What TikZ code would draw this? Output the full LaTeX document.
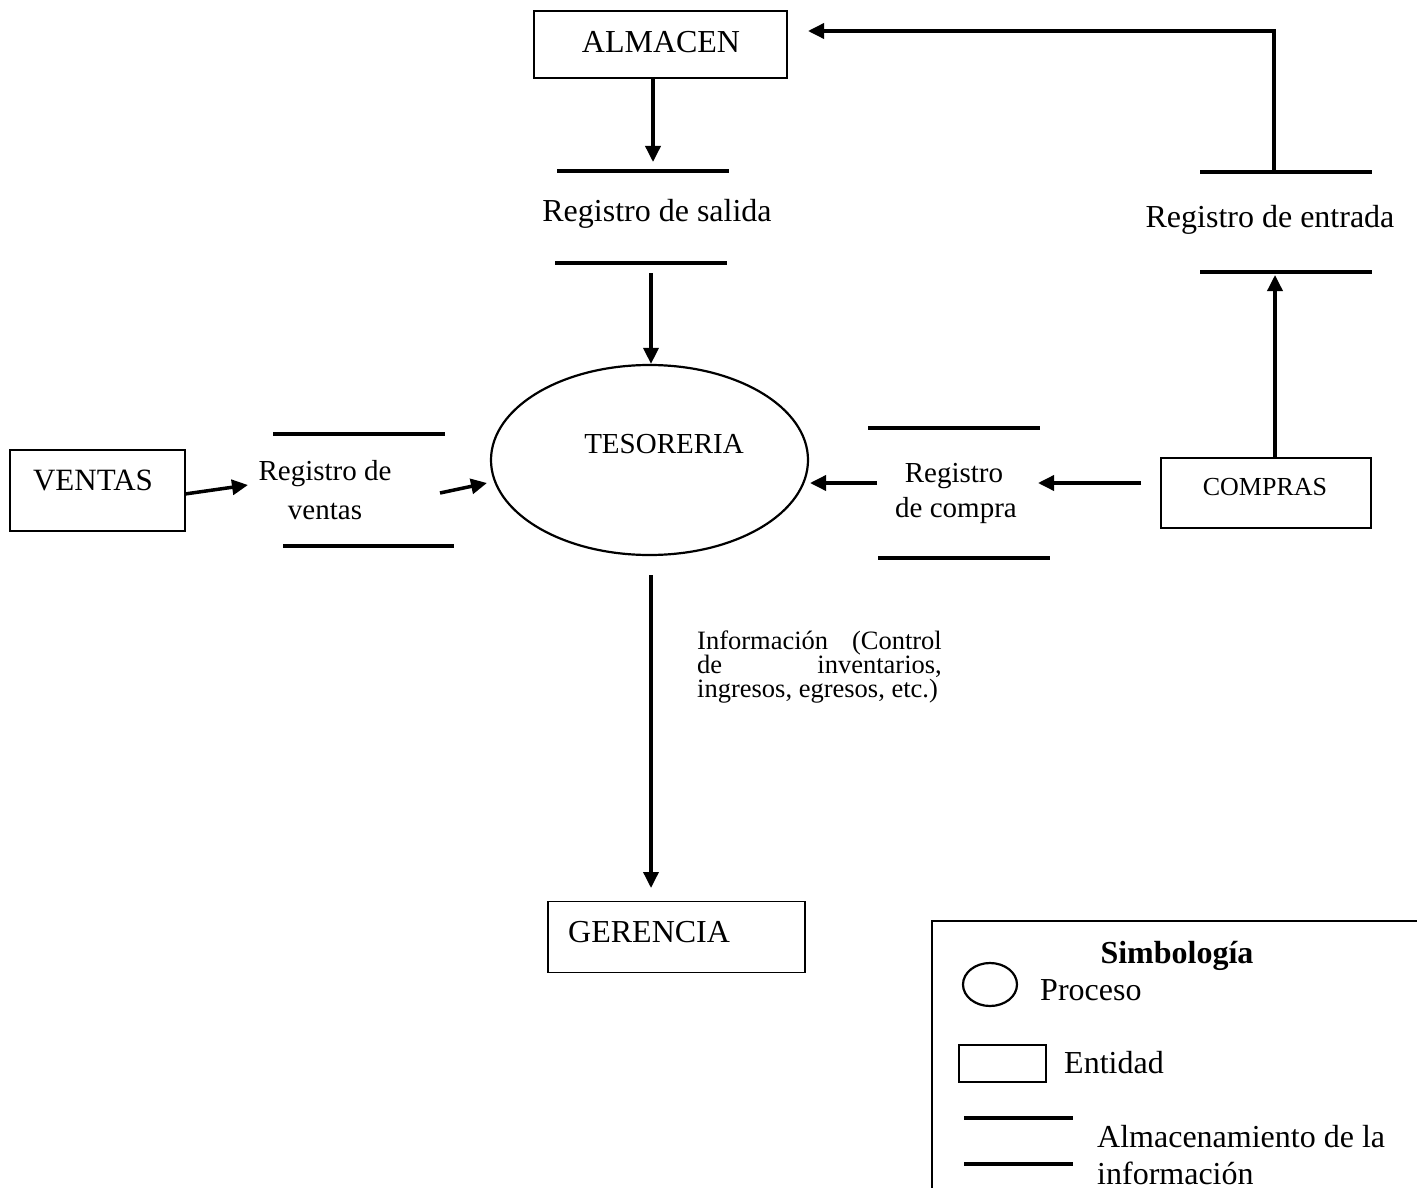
\documentclass[tikz,border=0pt]{standalone}
\usepackage{fontspec}
\setmainfont{Liberation Serif}
\usetikzlibrary{arrows.meta,shapes.geometric}
\begin{document}
\begin{tikzpicture}[x=1pt,y=-1pt,
  box/.style={draw,line width=1.3pt,inner sep=0pt},
  proc/.style={draw,ellipse,line width=2.2pt,inner sep=0pt},
  bar/.style={line width=4pt},
  arr/.style={line width=3.5pt,-{Triangle[length=16pt,width=15pt]}},
  lbl/.style={inner sep=0pt,anchor=base,font=\fontsize{#1}{#1}\selectfont}]
\useasboundingbox (0,0) rectangle (1417,1188);

% ALMACEN
\node[box,minimum width=253,minimum height=67] (alm) at (660.5,44.5) {};
\node[lbl=32] (almT) at (661,53) {ALMACEN};

% Registro de salida
\draw[bar] (557,171) -- (729,171);
\node[lbl=32] (sal) at (657,222) {Registro de salida};
\draw[bar] (555,263) -- (727,263);

% TESORERIA
\node[proc,minimum width=317,minimum height=190] (tes) at (649.5,460) {};
\node[lbl=29] (tesT) at (664,453) {TESORERIA};

% GERENCIA
\node[box,minimum width=257,minimum height=71] (ger) at (676.5,937) {};
\node[lbl=32,anchor=base west] (gerT) at (568,942) {GERENCIA};

% VENTAS
\node[box,minimum width=175,minimum height=81] (ven) at (97.5,490.5) {};
\node[lbl=31] (venT) at (93,490) {VENTAS};

% Registro de ventas
\draw[bar] (273,434) -- (445,434);
\draw[bar] (283,546) -- (454,546);
\node[lbl=29] (rv1) at (325,480) {Registro de};
\node[lbl=29] (rv2) at (325,519) {ventas};

% Registro de compra
\draw[bar] (868,428) -- (1040,428);
\draw[bar] (878,558) -- (1050,558);
\node[lbl=29] (rc1) at (954,482) {Registro};
\node[lbl=29] (rc2) at (956,517) {de compra};

% COMPRAS
\node[box,minimum width=210,minimum height=70] (com) at (1266,493) {};
\node[lbl=26] (comT) at (1265,495) {COMPRAS};

% Registro de entrada
\draw[bar] (1200,172) -- (1372,172);
\node[lbl=32] (ent) at (1270,227) {Registro de entrada};
\draw[bar] (1200,272) -- (1372,272);

% Informacion label
\node[lbl=26.5,anchor=base west] (i1a) at (697,649) {Información};
\node[lbl=26.5,anchor=base east] (i1b) at (942,649) {(Control};
\node[lbl=26.5,anchor=base west] (i2a) at (697,673) {de};
\node[lbl=26.5,anchor=base east] (i2b) at (942,673) {inventarios,};
\node[lbl=26.5,anchor=base west] (i3) at (697,697) {ingresos, egresos, etc.)};

% connector end points
\coordinate (salIn) at (653,162);
\coordinate (salOut) at (651,273);
\coordinate (tesOut) at (651,575);
\coordinate (gerIn) at (651,888);
\coordinate (comUp) at (1275,458);
\coordinate (entIn) at (1275,275);
\coordinate (entTop) at (1274,172);
\coordinate (almIn) at (808,31);
\coordinate (comOut) at (1141,483);
\coordinate (rcIn) at (1038,483);
\coordinate (rcOut) at (877,483);
\coordinate (tesInR) at (810,483);
\coordinate (venOut) at (185,494);
\coordinate (rvIn) at (248,485);
\coordinate (rvOut) at (440,493);
\coordinate (tesInL) at (487,483);

% connectors
\draw[arr] (alm.south -| salIn) -- (salIn);
\draw[arr] (salOut) -- (tes.north -| salOut);
\draw[arr] (tesOut) -- (gerIn);
\draw[arr] (comUp) -- (entIn);
\draw[arr] (entTop) |- (almIn);
\draw[arr] (comOut) -- (rcIn);
\draw[arr] (rcOut) -- (tesInR);
\draw[arr] (venOut) -- (rvIn);
\draw[arr] (rvOut) -- (tesInL);

% Legend
\draw[line width=1.3pt] (1417,921) -- (932,921) -- (932,1190);
\node[lbl=32,font=\fontsize{32}{32}\selectfont\bfseries] (lgT) at (1177,963) {Simbología};
\node[proc,minimum width=54,minimum height=43] (lgE) at (990,984.5) {};
\node[lbl=32,anchor=base west] (lgEt) at (1040,1000) {Proceso};
\node[box,minimum width=87,minimum height=37] (lgR) at (1002.5,1063.5) {};
\node[lbl=32,anchor=base west] (lgRt) at (1064,1073) {Entidad};
\draw[bar] (964,1118) -- (1073,1118);
\draw[bar] (964,1164) -- (1073,1164);
\node[lbl=32,anchor=base west] (lgS1) at (1097,1147) {Almacenamiento de la};
\node[lbl=32,anchor=base west] (lgS2) at (1097,1184) {información};
\end{tikzpicture}
\end{document}
